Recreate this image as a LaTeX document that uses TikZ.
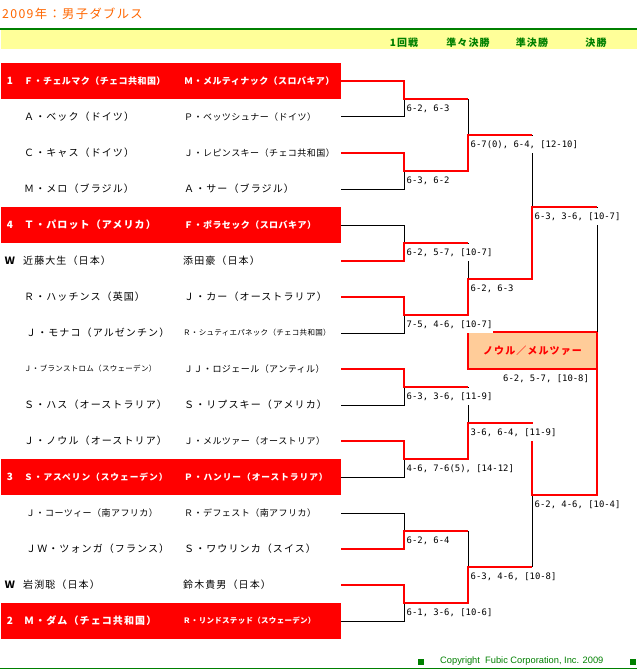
\documentclass[tikz,border=0pt]{standalone}
\usepackage{fontspec}
\usepackage{tikz}
\usetikzlibrary{positioning}
\newfontfamily\jpfont{Noto Sans CJK JP}[LetterSpace=11]
\newfontfamily\jpmid{Noto Sans CJK JP}[LetterSpace=5]
\newfontfamily\jpsml{Noto Sans CJK JP}[LetterSpace=4]
\newfontfamily\scorefont{DejaVu Sans Mono}
\newfontfamily\copyfont{Liberation Sans}
\newcommand\nmbig{\jpfont\fontsize{10}{12}\selectfont}
\newcommand\nmmid{\jpmid\fontsize{9}{11}\selectfont}
\newcommand\nmsml{\jpsml\fontsize{7.5}{9}\selectfont}
\newcommand\nmalt{\jpfont\fontsize{8.7}{11}\selectfont}
\definecolor{seedred}{HTML}{FF0000}
\definecolor{titleorange}{HTML}{FF6600}
\definecolor{headgreen}{HTML}{008000}
\definecolor{bandyellow}{HTML}{FFFF99}
\definecolor{champfill}{HTML}{FFCC99}

\begin{document}
\begin{tikzpicture}[
    x=1pt, y=-1pt,
    plyr/.style={anchor=west, inner sep=0pt, font=\nmbig},
    seedlbl/.style={inner sep=0pt, font=\nmbig\bfseries},
    lose/.style={draw=black, line width=1pt},
    win/.style={draw=seedred, line width=2pt},
    score/.style={anchor=north west, fill=white, inner sep=1pt, minimum height=17pt, font=\scorefont\fontsize{8.9}{10}\selectfont},
    head/.style={inner sep=0pt, text=headgreen, font=\nmbig\bfseries},
    champ/.style={draw=seedred, line width=2pt, fill=champfill, minimum width=129pt, minimum height=37pt, outer sep=0pt, inner sep=0pt, text=seedred, font=\nmbig\bfseries}
  ]
  \useasboundingbox (0,0) rectangle (637,671);

  % Title and header band
  \node[anchor=west, inner sep=0pt, text=titleorange, font=\jpfont\fontsize{12.3}{14}\selectfont] (title) at (2,14) {2009年：男子ダブルス};
  \draw[headgreen, line width=2pt] (0,29) -- (637,29);
  \fill[bandyellow] (1,30) rectangle (637,49);
  \node[head] (h1) at (404,43) {1回戦};
  \node[head] (h2) at (468,43) {準々決勝};
  \node[head] (h3) at (532,43) {準決勝};
  \node[head] (h4) at (596,43) {決勝};

  % Seeded pairs
  \foreach \r in {1,5,12,16}
    \fill[seedred] (1,{27+36*\r}) rectangle (341,{63+36*\r});

  % Bracket points
  \foreach \r in {1,...,16}
    \coordinate (p\r) at (341,{45+36*\r});
  \foreach \m in {1,...,8}
    \coordinate (a\m) at (404,{27+72*\m});
  \foreach \q in {1,...,4}
    \coordinate (b\q) at (468,{-9+144*\q});
  \coordinate (c1) at (532,207);
  \coordinate (c2) at (532,495);

  % Champion
  \node[champ] (champ) at (532.5,350.5) {ノウル／メルツァー};

  % Players
  \node[seedlbl, text=white] (s1) at (10,81) {1};
  \node[plyr, text=white, font=\nmmid\bfseries] (na1) at (24,81) {Ｆ・チェルマク（チェコ共和国）};
  \node[plyr, text=white, font=\nmmid\bfseries] (nb1) at (184,81) {Ｍ・メルティナック（スロバキア）};
  \node[plyr] (na2) at (24,117) {Ａ・ベック（ドイツ）};
  \node[plyr, font=\nmmid] (nb2) at (184,117) {Ｐ・ベッツシュナー（ドイツ）};
  \node[plyr] (na3) at (24,153) {Ｃ・キャス（ドイツ）};
  \node[plyr, font=\nmmid] (nb3) at (184,153) {Ｊ・レピンスキー（チェコ共和国）};
  \node[plyr] (na4) at (24,189) {Ｍ・メロ（ブラジル）};
  \node[plyr] (nb4) at (184,189) {Ａ・サー（ブラジル）};
  \node[seedlbl, text=white] (s5) at (10,225) {4};
  \node[plyr, text=white, font=\nmbig\bfseries] (na5) at (24,225) {Ｔ・パロット（アメリカ）};
  \node[plyr, text=white, font=\nmmid\bfseries] (nb5) at (184,225) {Ｆ・ポラセック（スロバキア）};
  \node[seedlbl] (s6) at (10,261) {Ｗ};
  \node[plyr] (na6) at (23,261) {近藤大生（日本）};
  \node[plyr] (nb6) at (183,261) {添田豪（日本）};
  \node[plyr] (na7) at (24,297) {Ｒ・ハッチンス（英国）};
  \node[plyr] (nb7) at (184,297) {Ｊ・カー（オーストラリア）};
  \node[plyr] (na8) at (26,333) {Ｊ・モナコ（アルゼンチン）};
  \node[plyr, font=\nmsml] (nb8) at (183,333) {Ｒ・シュティエパネック（チェコ共和国）};
  \node[plyr, font=\nmsml] (na9) at (24,369) {Ｊ・ブランストロム（スウェーデン）};
  \node[plyr, font=\nmmid] (nb9) at (184,369) {ＪＪ・ロジェール（アンティル）};
  \node[plyr] (na10) at (24,405) {Ｓ・ハス（オーストラリア）};
  \node[plyr] (nb10) at (184,405) {Ｓ・リプスキー（アメリカ）};
  \node[plyr] (na11) at (24,441) {Ｊ・ノウル（オーストリア）};
  \node[plyr, font=\nmmid] (nb11) at (184,441) {Ｊ・メルツァー（オーストリア）};
  \node[seedlbl, text=white] (s12) at (10,477) {3};
  \node[plyr, text=white, font=\nmalt\bfseries] (na12) at (24,477) {Ｓ・アスペリン（スウェーデン）};
  \node[plyr, text=white, font=\nmalt\bfseries] (nb12) at (184,477) {Ｐ・ハンリー（オーストラリア）};
  \node[plyr, font=\nmmid] (na13) at (26,513) {Ｊ・コーツィー（南アフリカ）};
  \node[plyr, font=\nmmid] (nb13) at (184,513) {Ｒ・デフェスト（南アフリカ）};
  \node[plyr] (na14) at (26,549) {ＪＷ・ツォンガ（フランス）};
  \node[plyr] (nb14) at (184,549) {Ｓ・ワウリンカ（スイス）};
  \node[seedlbl] (s15) at (10,585) {Ｗ};
  \node[plyr] (na15) at (23,585) {岩渕聡（日本）};
  \node[plyr] (nb15) at (183,585) {鈴木貴男（日本）};
  \node[seedlbl, text=white] (s16) at (10,621) {2};
  \node[plyr, text=white, font=\nmbig\bfseries] (na16) at (24,621) {Ｍ・ダム（チェコ共和国）};
  \node[plyr, text=white, font=\nmsml\bfseries] (nb16) at (183,621) {Ｒ・リンドステッド（スウェーデン）};

  % Lost matches
  \draw[lose] (p2) -| (a1);
  \draw[lose] (p4) -| (a2);
  \draw[lose] (p5) -| (a3);
  \draw[lose] (p8) -| (a4);
  \draw[lose] (p10) -| (a5);
  \draw[lose] (p12) -| (a6);
  \draw[lose] (p13) -| (a7);
  \draw[lose] (p16) -| (a8);
  \draw[lose] (a1 -| b1) -- (b1);
  \draw[lose] (a3 -| b2) -- (b2);
  \draw[lose] (a5 -| b3) -- (b3);
  \draw[lose] (a7 -| b4) -- (b4);
  \draw[lose] (b1 -| c1) -- (c1);
  \draw[lose] (b4 -| c2) -- (c2);
  \draw[lose] (c1 -| champ.east) -- (champ.north east);

  % Winning paths
  \draw[win] (p1) -| (a1) -- (a1 -| b1);
  \draw[win] (p3) -| (a2) -- (a2 -| b1) -- (b1) -- (b1 -| c1);
  \draw[win] (p6) -| (a3) -- (a3 -| b2);
  \draw[win] (p7) -| (a4) -- (a4 -| b2) -- (b2) -- (b2 -| c1) -- (c1) -- (c1 -| champ.east);
  \draw[win] (p9) -| (a5) -- (a5 -| b3);
  \draw[win] (p11) -| (a6) -- (a6 -| b3) -- (b3) -- (b3 -| c2) -- (c2) -- (c2 -| champ.east) -- (champ.south east);
  \draw[win] (p14) -| (a7) -- (a7 -| b4);
  \draw[win] (p15) -| (a8) -- (a8 -| b4) -- (b4) -- (b4 -| c2);

  % Scores
  \node[score] (sa1) at ([xshift=1.5pt,yshift=-1pt]a1) {6-2, 6-3};
  \node[score] (sa2) at ([xshift=1.5pt,yshift=-1pt]a2) {6-3, 6-2};
  \node[score] (sa3) at ([xshift=1.5pt,yshift=-1pt]a3) {6-2, 5-7, [10-7]};
  \node[score] (sa4) at ([xshift=1.5pt,yshift=-1pt]a4) {7-5, 4-6, [10-7]};
  \node[score] (sa5) at ([xshift=1.5pt,yshift=-1pt]a5) {6-3, 3-6, [11-9]};
  \node[score] (sa6) at ([xshift=1.5pt,yshift=-1pt]a6) {4-6, 7-6(5), [14-12]};
  \node[score] (sa7) at ([xshift=1.5pt,yshift=-1pt]a7) {6-2, 6-4};
  \node[score] (sa8) at ([xshift=1.5pt,yshift=-1pt]a8) {6-1, 3-6, [10-6]};
  \node[score] (sb1) at ([xshift=1.5pt,yshift=-1pt]b1) {6-7(0), 6-4, [12-10]};
  \node[score] (sb2) at ([xshift=1.5pt,yshift=-1pt]b2) {6-2, 6-3};
  \node[score] (sb3) at ([xshift=1.5pt,yshift=-1pt]b3) {3-6, 6-4, [11-9]};
  \node[score] (sb4) at ([xshift=1.5pt,yshift=-1pt]b4) {6-3, 4-6, [10-8]};
  \node[score] (sc1) at ([xshift=1.5pt,yshift=-1pt]c1) {6-3, 3-6, [10-7]};
  \node[score] (sc2) at ([xshift=1.5pt,yshift=-1pt]c2) {6-2, 4-6, [10-4]};
  \node[score] (sfin) at (502,370) {6-2, 5-7, [10-8]};

  % Footer
  \fill[headgreen] (418,659) rectangle (424,665);
  \node[anchor=west, inner sep=0pt, text=headgreen, font=\copyfont\fontsize{9.3}{11}\selectfont] (copy) at (440,661.5) {Copyright\ \ Fubic Corporation, Inc. 2009};
  \fill[headgreen] (630,659) rectangle (636,665);
  \draw[headgreen, line width=1pt] (0,668.5) -- (637,668.5);

\end{tikzpicture}
\end{document}
